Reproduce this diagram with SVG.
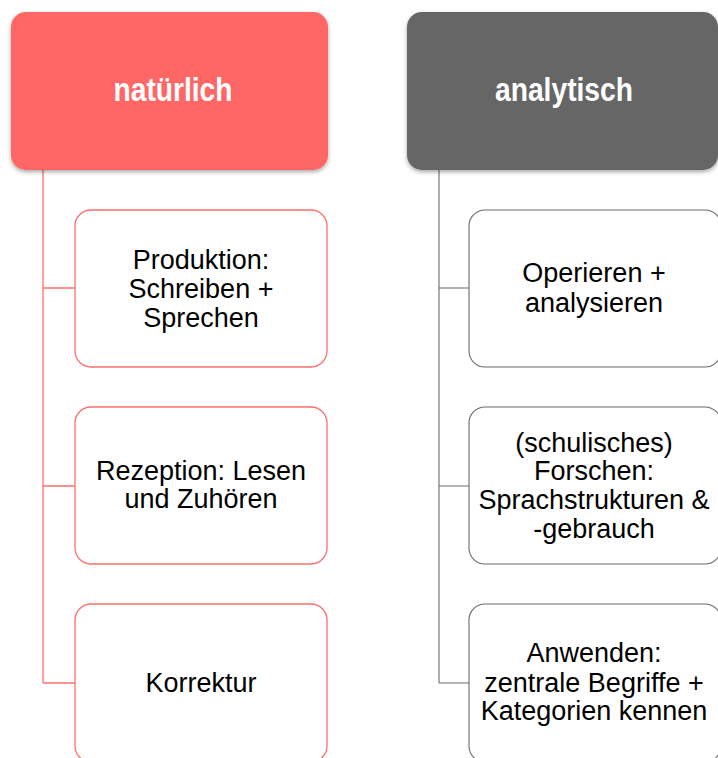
<svg xmlns="http://www.w3.org/2000/svg" width="718" height="758" viewBox="0 0 718 758">
<defs>
<filter id="sh" x="-10%" y="-10%" width="120%" height="130%">
<feDropShadow dx="0" dy="2" stdDeviation="2" flood-color="#000" flood-opacity="0.35"/>
</filter>
<style>
.hdr-red{fill:#FF6666;filter:url(#sh)}
.hdr-gray{fill:#666666;filter:url(#sh)}
.htxt{font-family:"Liberation Sans",Arial,sans-serif;font-weight:bold;font-size:34px;fill:#ffffff;text-anchor:middle}
.cred{fill:#ffffff;stroke:#FF6E6E;stroke-width:1.3}
.cgray{fill:#ffffff;stroke:#6A6A6A;stroke-width:1.1}
.ctxt{font-family:"Liberation Sans",Arial,Helvetica,sans-serif;font-size:27px;fill:#000000;text-anchor:middle}
.lred{fill:none;stroke:#FF6E6E;stroke-width:1.3}
.lgray{fill:none;stroke:#6A6A6A;stroke-width:1.1}
</style>
</defs>
<rect width="718" height="758" fill="#ffffff"/>
<g id="connectors">
<path class="lred" d="M43,170 V683 M43,288 H75 M43,486 H75 M43,683 H75"/>
<path class="lgray" d="M439,170 V683 M439,288 H469 M439,486 H469 M439,683 H469"/>
</g>
<g id="node-natuerlich">
<rect class="hdr-red" x="11" y="12" width="317" height="158" rx="15" ry="15"/>
<text class="htxt" x="173" y="101" textLength="119" lengthAdjust="spacingAndGlyphs">natürlich</text>
</g>
<g id="node-analytisch">
<rect class="hdr-gray" x="407" y="12" width="311" height="158" rx="15" ry="15"/>
<text class="htxt" x="564" y="101" textLength="138" lengthAdjust="spacingAndGlyphs">analytisch</text>
</g>
<g id="node-produktion">
<rect class="cred" x="75" y="210" width="252" height="157" rx="16" ry="16"/>
<text class="ctxt" x="201"><tspan x="201" y="269">Produktion:</tspan><tspan x="201" y="297.8">Schreiben +</tspan><tspan x="201" y="326.6">Sprechen</tspan></text>
</g>
<g id="node-rezeption">
<rect class="cred" x="75" y="407" width="252" height="157" rx="16" ry="16"/>
<text class="ctxt" x="201"><tspan x="201" y="479.5">Rezeption: Lesen</tspan><tspan x="201" y="508.3">und Zuhören</tspan></text>
</g>
<g id="node-korrektur">
<rect class="cred" x="75" y="604" width="252" height="158" rx="16" ry="16"/>
<text class="ctxt" x="201" y="692">Korrektur</text>
</g>
<g id="node-operieren">
<rect class="cgray" x="469" y="210" width="252" height="157" rx="16" ry="16"/>
<text class="ctxt" x="594"><tspan x="594" y="282">Operieren +</tspan><tspan x="594" y="311.5">analysieren</tspan></text>
</g>
<g id="node-forschen">
<rect class="cgray" x="469" y="407" width="252" height="157" rx="16" ry="16"/>
<text class="ctxt" x="594"><tspan x="594" y="451.7">(schulisches)</tspan><tspan x="594" y="480.3">Forschen:</tspan><tspan x="594" y="509.2">Sprachstrukturen &amp;</tspan><tspan x="594" y="538">-gebrauch</tspan></text>
</g>
<g id="node-anwenden">
<rect class="cgray" x="469" y="604" width="252" height="158" rx="16" ry="16"/>
<text class="ctxt" x="594"><tspan x="594" y="662">Anwenden:</tspan><tspan x="594" y="691.5">zentrale Begriffe +</tspan><tspan x="594" y="720.3">Kategorien kennen</tspan></text>
</g>
</svg>
